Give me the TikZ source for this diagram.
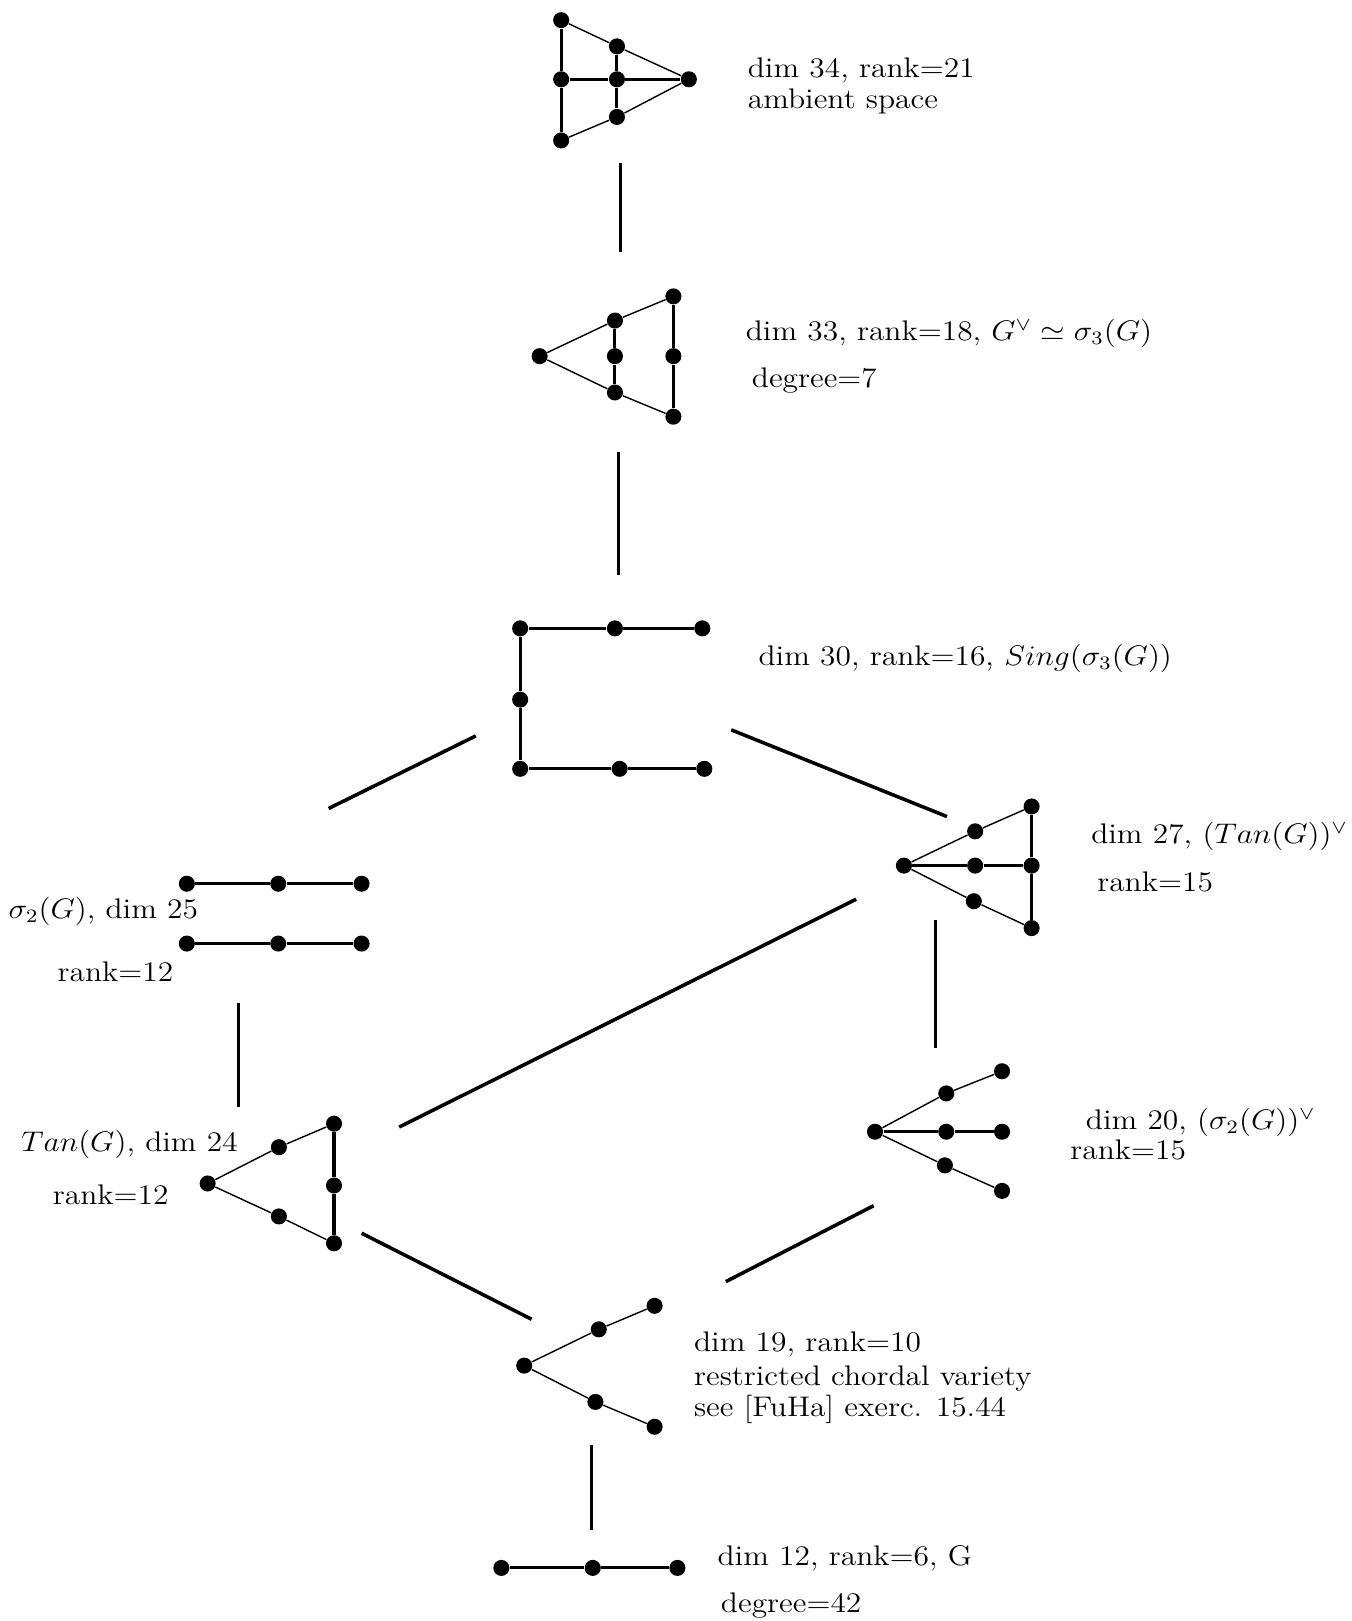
\documentclass[tikz,border=0pt]{standalone}
\usepackage{amsmath}
\usepackage{tikz}

\begin{document}
\begin{tikzpicture}[dot/.style={circle,fill=black,inner sep=0pt,minimum size=6.8pt},
        weak/.style={line width=0.6pt},
        strong/.style={line width=1.3pt},
        link/.style={line width=1.5pt},
        lbl/.style={anchor=base west,inner sep=0pt,xscale=1.11,font=\fontsize{12}{14}\selectfont}]
        \useasboundingbox (0,0) rectangle (20.11,24.12);
        % ambient space
        \node[dot](amb_tl) at (8.35,23.82){};
        \node[dot](amb_ml) at (8.35,22.94){};
        \node[dot](amb_bl) at (8.35,22.03){};
        \node[dot](amb_um) at (9.18,23.43){};
        \node[dot](amb_c) at (9.18,22.94){};
        \node[dot](amb_lm) at (9.18,22.38){};
        \node[dot](amb_r) at (10.25,22.94){};
        \draw[strong] (amb_tl) -- (amb_ml) -- (amb_bl);
        \draw[strong] (amb_ml) -- (amb_c) -- (amb_r);
        \draw[strong] (amb_um) -- (amb_c) -- (amb_lm);
        \draw[weak] (amb_tl) -- (amb_um) -- (amb_r);
        \draw[weak] (amb_bl) -- (amb_lm) -- (amb_r);
        \node[lbl](amb_t1) at (11.12,22.96) {dim 34, rank=21};
        \node[lbl](amb_t2) at (11.12,22.51) {ambient space};

        % dual variety
        \node[dot](du_l) at (8.03,18.82){};
        \node[dot](du_um) at (9.15,19.35){};
        \node[dot](du_m) at (9.15,18.82){};
        \node[dot](du_lm) at (9.15,18.28){};
        \node[dot](du_rt) at (10.02,19.71){};
        \node[dot](du_rm) at (10.02,18.82){};
        \node[dot](du_rb) at (10.02,17.92){};
        \draw[weak] (du_l) -- (du_um) -- (du_rt);
        \draw[weak] (du_l) -- (du_lm) -- (du_rb);
        \draw[strong] (du_um) -- (du_m) -- (du_lm);
        \draw[strong] (du_rt) -- (du_rm) -- (du_rb);
        \node[lbl](du_t1) at (11.09,19.05) {dim 33, rank=18, $G^{\vee}\simeq\sigma_3(G)$};
        \node[lbl](du_t2) at (11.18,18.35) {degree=7};

        % singular locus
        \node[dot](si_t1) at (7.74,14.77){};
        \node[dot](si_t2) at (9.15,14.77){};
        \node[dot](si_t3) at (10.45,14.77){};
        \node[dot](si_l) at (7.74,13.71){};
        \node[dot](si_b1) at (7.74,12.68){};
        \node[dot](si_b2) at (9.22,12.68){};
        \node[dot](si_b3) at (10.48,12.68){};
        \draw[strong] (si_t3) -- (si_t2) -- (si_t1) -- (si_l) -- (si_b1) -- (si_b2) -- (si_b3);
        \node[lbl](si_t) at (11.28,14.22) {dim 30, rank=16, $Sing(\sigma_3(G))$};

        % secant variety
        \node[dot](se_a1) at (2.78,10.97){};
        \node[dot](se_a2) at (4.14,10.97){};
        \node[dot](se_a3) at (5.38,10.97){};
        \node[dot](se_b1) at (2.78,10.08){};
        \node[dot](se_b2) at (4.14,10.08){};
        \node[dot](se_b3) at (5.38,10.08){};
        \draw[strong] (se_a1) -- (se_a2) -- (se_a3);
        \draw[strong] (se_b1) -- (se_b2) -- (se_b3);
        \node[lbl](se_t1) at (0.12,10.45) {$\sigma_2(G)$, dim 25};
        \node[lbl](se_t2) at (0.85,9.51) {rank=12};

        % dual of the tangent variety
        \node[dot](td_l) at (13.45,11.24){};
        \node[dot](td_u) at (14.51,11.75){};
        \node[dot](td_m) at (14.51,11.24){};
        \node[dot](td_d) at (14.49,10.71){};
        \node[dot](td_rt) at (15.35,12.12){};
        \node[dot](td_rm) at (15.35,11.24){};
        \node[dot](td_rb) at (15.35,10.31){};
        \draw[weak] (td_l) -- (td_u) -- (td_rt);
        \draw[weak] (td_l) -- (td_d) -- (td_rb);
        \draw[strong] (td_l) -- (td_m) -- (td_rm);
        \draw[strong] (td_rt) -- (td_rm) -- (td_rb);
        \node[lbl](td_t1) at (16.23,11.57) {dim 27, $(Tan(G))^{\vee}$};
        \node[lbl](td_t2) at (16.32,10.86) {rank=15};

        % tangent variety
        \node[dot](ta_l) at (3.09,6.51){};
        \node[dot](ta_u) at (4.15,7.05){};
        \node[dot](ta_d) at (4.15,6.02){};
        \node[dot](ta_rt) at (4.97,7.40){};
        \node[dot](ta_rm) at (4.97,6.48){};
        \node[dot](ta_rb) at (4.97,5.62){};
        \draw[weak] (ta_l) -- (ta_u) -- (ta_rt);
        \draw[weak] (ta_l) -- (ta_d) -- (ta_rb);
        \draw[strong] (ta_rt) -- (ta_rm) -- (ta_rb);
        \node[lbl](ta_t1) at (0.31,6.98) {$Tan(G)$, dim 24};
        \node[lbl](ta_t2) at (0.78,6.20) {rank=12};

        % dual of the secant variety
        \node[dot](sd_l) at (13.02,7.28){};
        \node[dot](sd_u) at (14.08,7.85){};
        \node[dot](sd_m) at (14.08,7.28){};
        \node[dot](sd_d) at (14.06,6.78){};
        \node[dot](sd_rt) at (14.91,8.18){};
        \node[dot](sd_rm) at (14.91,7.28){};
        \node[dot](sd_rb) at (14.91,6.40){};
        \draw[weak] (sd_l) -- (sd_u) -- (sd_rt);
        \draw[weak] (sd_l) -- (sd_d) -- (sd_rb);
        \draw[strong] (sd_l) -- (sd_m) -- (sd_rm);
        \node[lbl](sd_t1) at (16.15,7.31) {dim 20, $(\sigma_2(G))^{\vee}$};
        \node[lbl](sd_t2) at (15.92,6.86) {rank=15};

        % restricted chordal variety
        \node[dot](rc_l) at (7.80,3.80){};
        \node[dot](rc_u) at (8.91,4.34){};
        \node[dot](rc_ut) at (9.74,4.69){};
        \node[dot](rc_d) at (8.86,3.26){};
        \node[dot](rc_db) at (9.74,2.89){};
        \draw[weak] (rc_l) -- (rc_u) -- (rc_ut);
        \draw[weak] (rc_l) -- (rc_d) -- (rc_db);
        \node[lbl](rc_t1) at (10.32,4.01) {dim 19, rank=10};
        \node[lbl](rc_t2) at (10.32,3.51) {restricted chordal variety};
        \node[lbl](rc_t3) at (10.32,3.04) {see [FuHa] exerc. 15.44};

        % G itself
        \node[dot](g_1) at (7.46,0.79){};
        \node[dot](g_2) at (8.82,0.79){};
        \node[dot](g_3) at (10.08,0.79){};
        \draw[strong] (g_1) -- (g_2) -- (g_3);
        \node[lbl](g_t1) at (10.67,0.82) {dim 12, rank=6, G};
        \node[lbl](g_t2) at (10.72,0.12) {degree=42};

        % inclusions
        \coordinate (k1a) at (9.23,21.69);
        \coordinate (k1b) at (9.23,20.37);
        \coordinate (k2a) at (9.20,17.40);
        \coordinate (k2b) at (9.20,15.57);
        \coordinate (k3a) at (7.08,13.17);
        \coordinate (k3b) at (4.89,12.09);
        \coordinate (k4a) at (10.88,13.26);
        \coordinate (k4b) at (14.09,11.97);
        \coordinate (k5a) at (12.74,10.74);
        \coordinate (k5b) at (5.94,7.35);
        \coordinate (k6a) at (13.92,10.43);
        \coordinate (k6b) at (13.92,8.52);
        \coordinate (k7a) at (3.55,9.20);
        \coordinate (k7b) at (3.55,7.65);
        \coordinate (k8a) at (5.38,5.77);
        \coordinate (k8b) at (7.91,4.49);
        \coordinate (k9a) at (13.00,6.18);
        \coordinate (k9b) at (10.80,5.05);
        \coordinate (k10a) at (8.80,2.62);
        \coordinate (k10b) at (8.80,1.35);
        \draw[link] (k1a) -- (k1b);
        \draw[link] (k2a) -- (k2b);
        \draw[link] (k3a) -- (k3b);
        \draw[link] (k4a) -- (k4b);
        \draw[link] (k5a) -- (k5b);
        \draw[link] (k6a) -- (k6b);
        \draw[link] (k7a) -- (k7b);
        \draw[link] (k8a) -- (k8b);
        \draw[link] (k9a) -- (k9b);
        \draw[link] (k10a) -- (k10b);

    \end{tikzpicture}
\end{document}
